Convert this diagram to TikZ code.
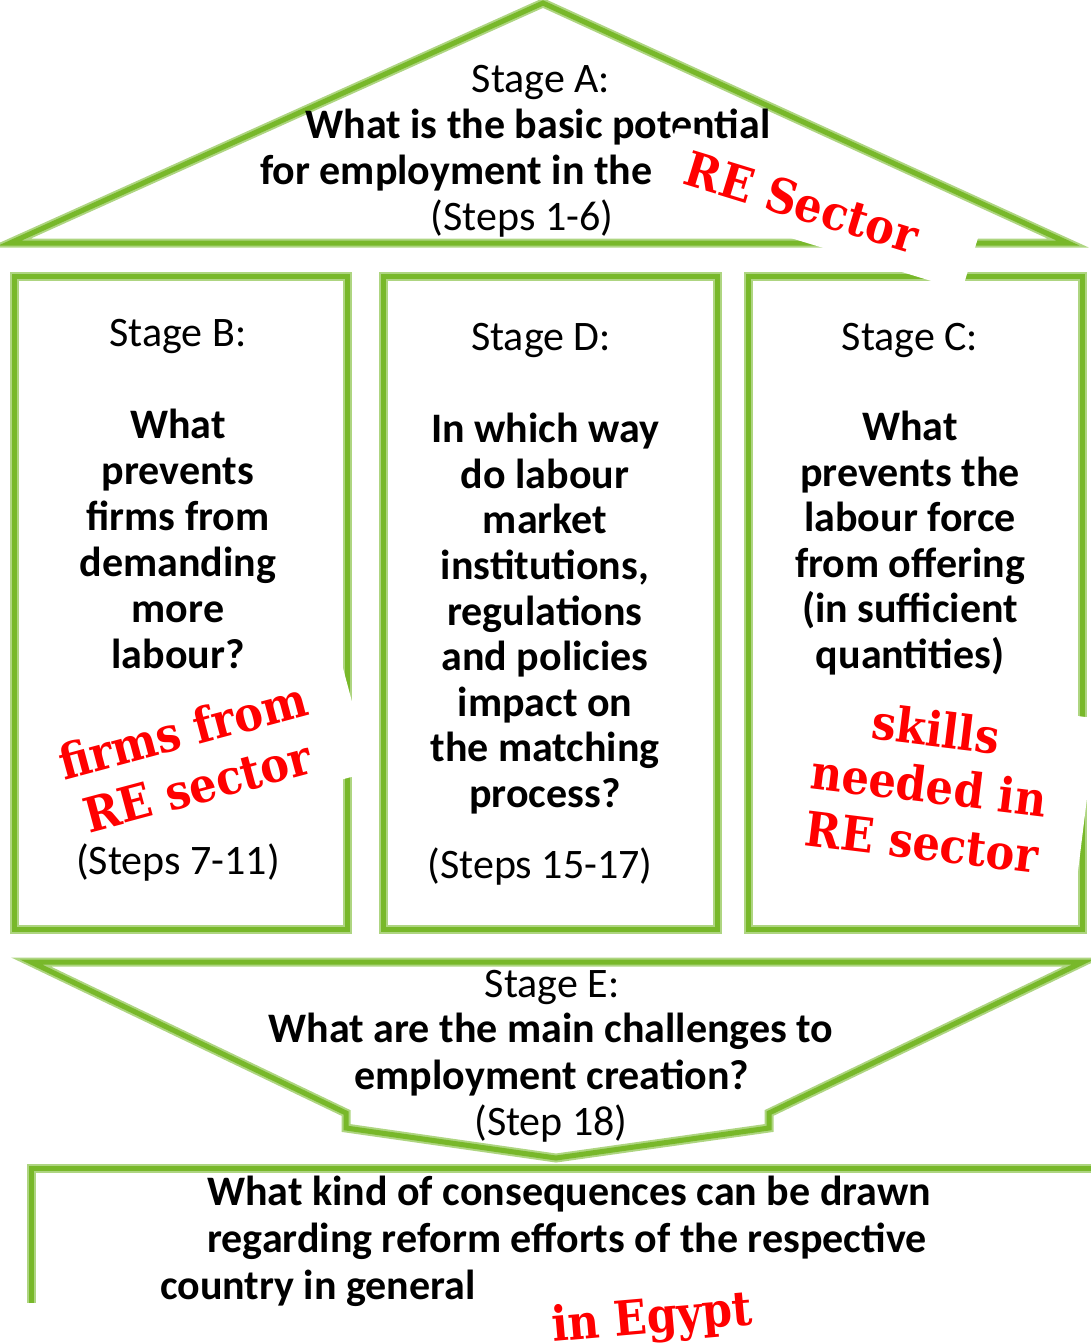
\documentclass[tikz,border=0pt]{standalone}
\usepackage{fontspec}
\setmainfont{Carlito}
\newfontfamily\stampfont{DejaVu Serif}[FakeStretch=0.9]
\definecolor{roofgreen}{HTML}{78B82A}
\definecolor{palegreen}{HTML}{AED581}
\definecolor{stampred}{HTML}{FF0000}
\tikzset{
  greenframe/.style={draw=roofgreen, line width=5pt, preaction={draw=palegreen, line width=9pt}},
  stagetxt/.style={font=\fontsize{42}{46}\selectfont, inner sep=0pt, anchor=base},
  ask/.style={stagetxt, font=\fontsize{42}{46}\selectfont\bfseries},
  stamp/.style={font=\stampfont\bfseries\fontsize{48}{57}\selectfont, text=stampred, align=center, inner sep=0pt},
  patch/.style={fill=white, inner sep=0pt}
}
\begin{document}
\begin{tikzpicture}[x=1pt, y=-1pt]
    \useasboundingbox (0,0) rectangle (1091,1344);
    % roof, pillars and base
    \draw[greenframe] (10,243) -- (543,3) -- (1068,243) -- cycle;
    \draw[greenframe] (14,276) rectangle (347,929);
    \draw[greenframe] (383,276) rectangle (717,929);
    \draw[greenframe] (748,276) rectangle (1082,929);
    \draw[greenframe] (31,962) -- (1083,962) -- (769,1113) -- (769,1128)
        -- (556,1158) -- (346,1128) -- (346,1113) -- cycle;
    \draw[greenframe] (31,1303) -- (31,1168) -- (1100,1168);

    % stage A
    \node[stagetxt] (stageA) at (541,92) {Stage A:};
    \node[ask] (askA1) at (538,138) {What is the basic potential};
    \node[ask, anchor=base west] (askA2) at (260,184) {for employment in the};
    \node[stagetxt] (stepsA) at (522,230) {(Steps 1-6)};

    % stage B
    \node[stagetxt] (stageB) at (178,346) {Stage B:};
    \foreach \wording [count=\i] in {What, prevents, firms from, demanding, more, labour?}
        \node[ask] (askB\i) at (178,392+46*\i) {\wording};

    % stage D
    \node[stagetxt] (stageD) at (541,350) {Stage D:};
    \foreach \wording [count=\i] in {In which way, do labour, market, {institutions,},
        regulations, and policies, impact on, the matching, process?}
        \node[ask] (askD\i) at (545,397+45.6*\i) {\wording};
    \node[stagetxt] (stepsD) at (540,878) {(Steps 15-17)};

    % stage C
    \node[stagetxt] (stageC) at (910,350) {Stage C:};
    \foreach \wording [count=\i] in {What, prevents the, labour force, from offering,
        {(in sufficient}, {quantities)}}
        \node[ask] (askC\i) at (910,395+45.5*\i) {\wording};

    % stage E
    \node[stagetxt] (stageE) at (552,997) {Stage E:};
    \node[ask] (askE1) at (551,1042) {What are the main challenges to};
    \node[ask] (askE2) at (552,1089) {employment creation?};
    \node[stagetxt] (stepsE) at (551,1135) {(Step 18)};

    % consequences
    \node[ask] (askF1) at (569,1205) {What kind of consequences can be drawn};
    \node[ask] (askF2) at (567,1252) {regarding reform efforts of the respective};
    \node[ask, anchor=base west] (askF3) at (160,1299) {country in general};

    % pasted notes
    \node[patch, rotate=-17, minimum width=321pt, minimum height=72pt] (coverA) at (819,209) {};
    \node[patch, rotate=15, minimum width=310pt, minimum height=124pt] (coverB) at (205,752) {};
    \node[patch, rotate=-7, minimum width=323pt, minimum height=188pt] (coverC) at (925,792) {};
    \node[stagetxt] (stepsB) at (178,874) {(Steps 7-11)};

    \node[stamp, rotate=-17] (reSector) at (802,202) {RE Sector};
    \node[stamp, rotate=15] (firmsRE) at (190,758) {firms from\\RE sector};
    \node[stamp, rotate=-7] (skillsRE) at (929,785) {skills\\needed in\\RE sector};
    \node[stamp, rotate=5, anchor=base west] (inEgypt) at (553,1342) {in Egypt};
\end{tikzpicture}
\end{document}
